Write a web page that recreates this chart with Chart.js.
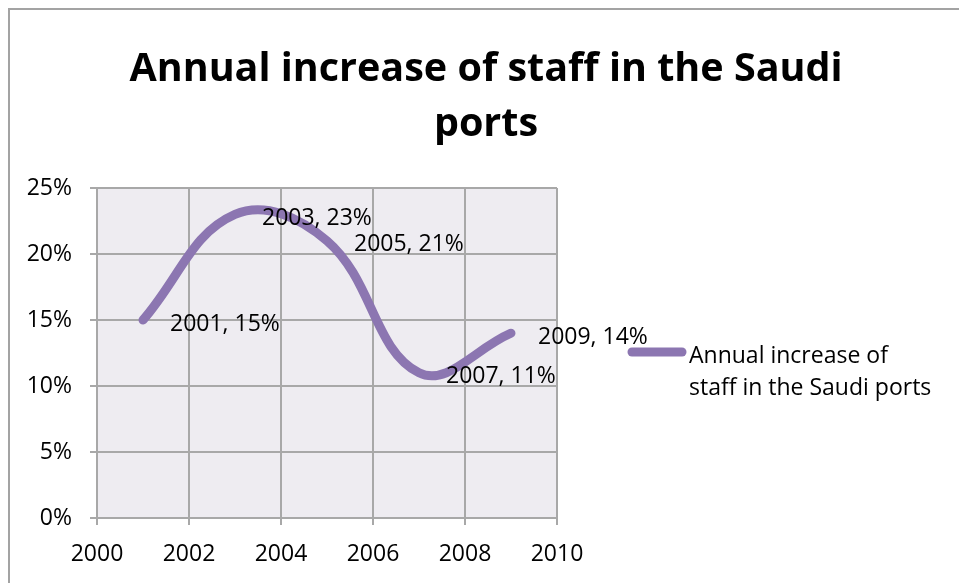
<!DOCTYPE html>
<html>
<head>
<meta charset="utf-8">
<script src="https://cdn.jsdelivr.net/npm/chart.js@4.4.1/dist/chart.umd.min.js"></script>
<style>
  html, body { margin: 0; padding: 0; background: #ffffff; }
  #wrap { width: 959px; height: 583px; position: relative; }
</style>
</head>
<body>
<div id="wrap"><canvas id="chart" width="959" height="583"></canvas></div>
<script>
// Annual increase of staff in the Saudi ports (share, by year)
const titleLines = ['Annual increase of staff in the Saudi', 'ports'];
const seriesName = 'Annual increase of staff in the Saudi ports';
const legendLines = ['Annual increase of', 'staff in the Saudi ports'];
const years = [2001, 2003, 2005, 2007, 2009];
const increase = [0.15, 0.23, 0.21, 0.11, 0.14];
const xTicks = [2000, 2002, 2004, 2006, 2008, 2010];
const yTicks = [0, 0.05, 0.10, 0.15, 0.20, 0.25];

const FONT = '"Open Sans", "Liberation Sans", sans-serif';
const LINE_COLOR = '#8c76b1';
const GRID_COLOR = '#a8a8a8';
const PLOT_BG = '#eeecf1';

const points = years.map((y, i) => ({ x: y, y: increase[i] }));

// Frame, title and plot background
const backdrop = {
  id: 'backdrop',
  beforeDraw(chart) {
    const { ctx, chartArea: a } = chart;
    ctx.save();
    ctx.fillStyle = PLOT_BG;
    ctx.fillRect(a.left, a.top, a.right - a.left, a.bottom - a.top);
    ctx.strokeStyle = '#a3a3a3';
    ctx.lineWidth = 2;
    ctx.beginPath();
    ctx.moveTo(9, 583);
    ctx.lineTo(9, 9);
    ctx.lineTo(959, 9);
    ctx.stroke();
    ctx.fillStyle = '#000';
    ctx.font = 'bold 39.5px ' + FONT;
    ctx.textAlign = 'center';
    ctx.textBaseline = 'alphabetic';
    ctx.fillText(titleLines[0], 486, 81);
    ctx.fillText(titleLines[1], 486, 136);
    ctx.restore();
  }
};

// "year, value" labels to the right of each point, plus the side legend
const labelsAndLegend = {
  id: 'labelsAndLegend',
  afterDatasetsDraw(chart) {
    const { ctx, chartArea: a } = chart;
    const meta = chart.getDatasetMeta(0);
    ctx.save();
    ctx.fillStyle = '#000';
    ctx.font = '23px ' + FONT;
    ctx.textAlign = 'left';
    ctx.textBaseline = 'middle';
    meta.data.forEach((pt, i) => {
      const txt = years[i] + ', ' + Math.round(increase[i] * 100) + '%';
      ctx.fillText(txt, pt.x + 27, pt.y + 4);
    });
    // legend
    const lx = a.right + 71;
    const ly = 352;
    ctx.strokeStyle = LINE_COLOR;
    ctx.lineWidth = 9;
    ctx.lineCap = 'round';
    ctx.beginPath();
    ctx.moveTo(lx + 4, ly);
    ctx.lineTo(lx + 54, ly);
    ctx.stroke();
    ctx.textBaseline = 'alphabetic';
    ctx.fillText(legendLines[0], lx + 61, 363);
    ctx.fillText(legendLines[1], lx + 61, 395);
    ctx.restore();
  }
};

new Chart(document.getElementById('chart'), {
  type: 'scatter',
  data: {
    datasets: [{
      label: seriesName,
      data: points,
      showLine: true,
      borderColor: LINE_COLOR,
      backgroundColor: LINE_COLOR,
      borderWidth: 9,
      borderCapStyle: 'round',
      borderJoinStyle: 'round',
      pointRadius: 0,
      pointHoverRadius: 0,
      tension: 0.4,
      cubicInterpolationMode: 'default'
    }]
  },
  options: {
    responsive: false,
    animation: false,
    events: [],
    layout: { padding: { left: 0, top: 188, right: 402, bottom: 0 } },
    plugins: {
      legend: { display: false },
      title: { display: false },
      tooltip: { enabled: false }
    },
    scales: {
      x: {
        type: 'linear',
        min: 2000,
        max: 2010,
        afterFit(s) { s.height = 65; },
        afterBuildTicks(s) { s.ticks = xTicks.map(v => ({ value: v })); },
        grid: { color: GRID_COLOR, lineWidth: 2, tickLength: 7, drawTicks: true },
        border: { color: GRID_COLOR, width: 2 },
        ticks: {
          color: '#000',
          font: { family: FONT, size: 23 },
          padding: 16,
          maxRotation: 0,
          callback: v => String(v)
        }
      },
      y: {
        min: 0,
        max: 0.25,
        afterFit(s) { s.width = 97; },
        afterBuildTicks(s) { s.ticks = yTicks.map(v => ({ value: v })); },
        grid: { color: GRID_COLOR, lineWidth: 2, tickLength: 7, drawTicks: true },
        border: { color: GRID_COLOR, width: 2 },
        ticks: {
          color: '#000',
          font: { family: FONT, size: 23 },
          padding: 18,
          callback: v => Math.round(v * 100) + '%'
        }
      }
    }
  },
  plugins: [backdrop, labelsAndLegend]
});
</script>
</body>
</html>
